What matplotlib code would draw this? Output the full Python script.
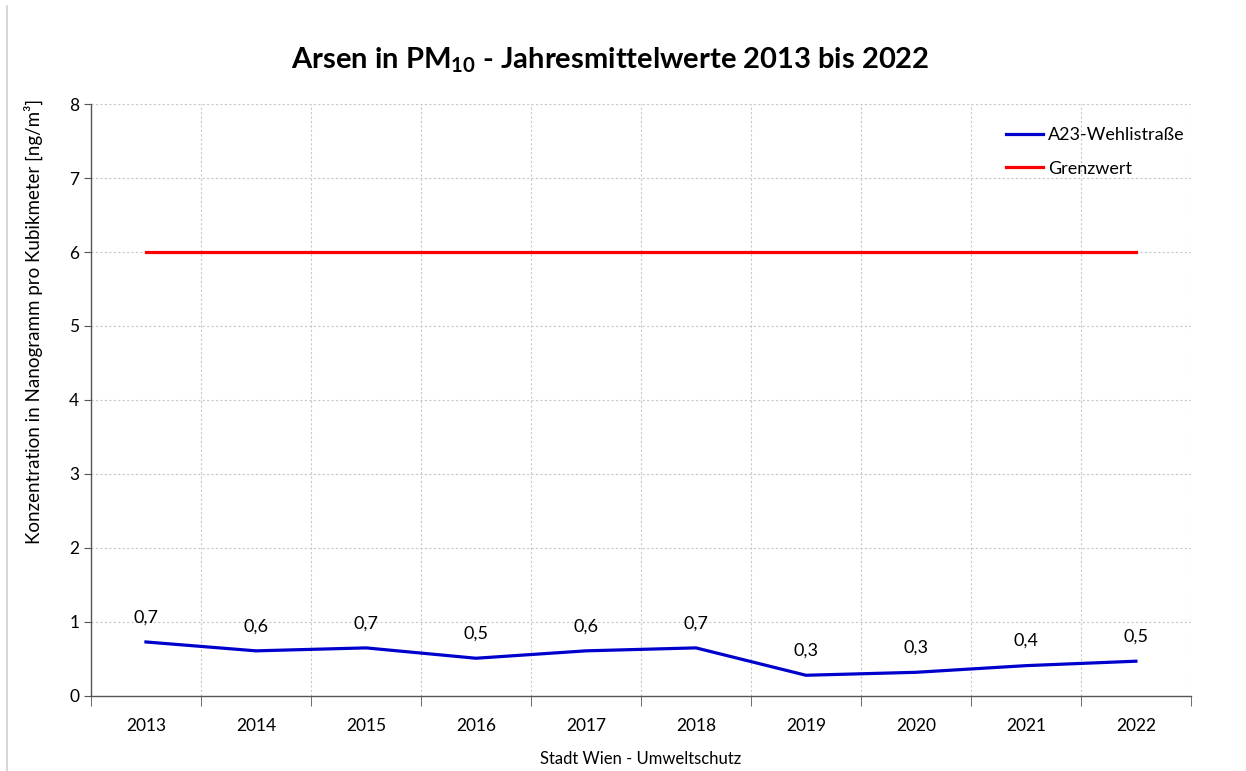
import numpy as np
import matplotlib.pyplot as plt
from matplotlib.lines import Line2D

plt.rcParams['font.family'] = ['Lato', 'DejaVu Sans']
plt.rcParams['mathtext.fontset'] = 'custom'
plt.rcParams['mathtext.rm'] = 'Lato'
plt.rcParams['mathtext.bf'] = 'Lato:bold'

years = ['2013', '2014', '2015', '2016', '2017', '2018', '2019', '2020', '2021', '2022']
wehlistrasse = [0.73, 0.61, 0.65, 0.51, 0.61, 0.65, 0.28, 0.32, 0.41, 0.47]
grenzwert = [6, 6, 6, 6, 6, 6, 6, 6, 6, 6]

fig = plt.figure(figsize=(12.46, 7.71), dpi=100)
ax = fig.add_axes([0.0730, 0.0973, 0.8828, 0.7678])

x = np.arange(len(years))
ax.plot(x, wehlistrasse, color='#0000cc', lw=2.3, label='A23-Wehlistraße')
ax.plot(x, grenzwert, color='#ff0000', lw=2.3, label='Grenzwert')

for xi, v in zip(x, wehlistrasse):
    ax.annotate(f"{v:.1f}".replace('.', ','), (xi, v), xytext=(0, 12),
                textcoords='offset points', ha='center', va='bottom', fontsize=13)

ax.set_xlim(-0.5, len(years) - 0.5)
ax.set_ylim(0, 8)
ax.set_yticks(range(0, 9))
ax.tick_params(axis='y', labelsize=12.5, length=5, color='#555555')

# category labels centred, tick marks on the boundaries
ax.set_xticks(x)
ax.set_xticklabels(years, fontsize=12.5)
ax.tick_params(axis='x', length=0, pad=16)
ax.set_xticks(np.arange(-0.5, len(years)), minor=True)
ax.tick_params(axis='x', which='minor', length=7, color='#555555', direction='out')

ax.grid(False)
ax.grid(True, which='minor', axis='x', color='#c8c8c8', ls=(0, (2, 2)), lw=0.8)
ax.grid(True, which='major', axis='y', color='#c8c8c8', ls=(0, (2, 2)), lw=0.8)
ax.set_axisbelow(True)

for s in ['top', 'right']:
    ax.spines[s].set_visible(False)
for s in ['left', 'bottom']:
    ax.spines[s].set_color('#555555')
    ax.spines[s].set_linewidth(1.0)

ax.set_ylabel('Konzentration in Nanogramm pro Kubikmeter [ng/m³]', fontsize=13.5)
ax.yaxis.set_label_coords(-0.044, 0.632)
ax.set_xlabel('Stadt Wien - Umweltschutz', fontsize=12, labelpad=12)

fig.text(0.49, 0.922, r'Arsen in PM$_{\mathbf{10}}$ - Jahresmittelwerte 2013 bis 2022',
         ha='center', va='center', fontsize=21, fontweight='bold')

ax.legend(loc='upper right', bbox_to_anchor=(1.009, 0.988), frameon=False, fontsize=13,
          handlelength=2.0, handletextpad=0.3, labelspacing=0.95)

fig.add_artist(Line2D([0.0058, 0.0058], [0.0, 0.992], color='#d0d0d0', lw=1.2))

fig.savefig('out.png', dpi=100)
